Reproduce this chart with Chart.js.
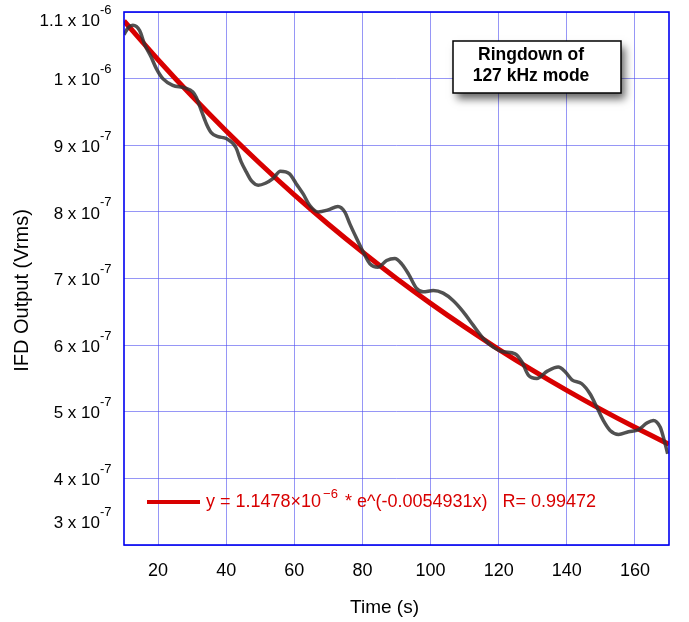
<!DOCTYPE html>
<html><head><meta charset="utf-8">
<script src="https://cdn.jsdelivr.net/npm/chart.js@4"></script>
<style>html,body{margin:0;padding:0;background:#fff} canvas{display:block}</style>
</head><body>
<canvas id="c" width="689" height="622" style="width:689px;height:622px"></canvas>
<script>
// ---- data ----
const timeS = [10, 11.2, 12.6, 14.6, 16, 18, 19.5, 21.4, 24.3, 27.8, 30.2, 31.2, 32.7, 34.2, 35.6, 37.6, 40, 42.8, 44.4, 45.9, 47.5, 49.4, 51.5, 53.7, 55.9, 58.6, 60.6, 62.6, 64.5, 67, 69.9, 72.8, 74.8, 76.3, 78.3, 80.2, 82.2, 84.6, 87.1, 89.5, 91.5, 93.5, 95.9, 97.8, 100.8, 103.7, 106.6, 109.6, 112.5, 115.5, 118.4, 121.3, 124.8, 126.8, 128.7, 131.2, 134.3, 137.5, 139.5, 141.5, 144.4, 146.8, 148.8, 150.7, 152.7, 155.2, 158.1, 161, 163.5, 165.4, 167.4, 168.6, 169.6];
const ifdOutput = [10.66e-7, 10.76e-7, 10.80e-7, 10.72e-7, 10.52e-7, 10.32e-7, 10.15e-7, 10.00e-7, 9.90e-7, 9.86e-7, 9.80e-7, 9.72e-7, 9.52e-7, 9.32e-7, 9.19e-7, 9.13e-7, 9.10e-7, 8.97e-7, 8.75e-7, 8.60e-7, 8.46e-7, 8.40e-7, 8.43e-7, 8.50e-7, 8.61e-7, 8.57e-7, 8.42e-7, 8.27e-7, 8.10e-7, 8.00e-7, 8.03e-7, 8.08e-7, 8.00e-7, 7.82e-7, 7.60e-7, 7.40e-7, 7.22e-7, 7.17e-7, 7.27e-7, 7.30e-7, 7.22e-7, 7.07e-7, 6.85e-7, 6.80e-7, 6.82e-7, 6.78e-7, 6.67e-7, 6.50e-7, 6.30e-7, 6.10e-7, 5.97e-7, 5.90e-7, 5.87e-7, 5.75e-7, 5.55e-7, 5.50e-7, 5.61e-7, 5.67e-7, 5.60e-7, 5.48e-7, 5.42e-7, 5.27e-7, 5.07e-7, 4.87e-7, 4.72e-7, 4.66e-7, 4.70e-7, 4.73e-7, 4.83e-7, 4.87e-7, 4.77e-7, 4.57e-7, 4.37e-7];
const fitTime = [10, 20, 30, 40, 50, 60, 70, 80, 90, 100, 110, 120, 130, 140, 150, 160, 170];
const fitOutput = [10.865e-7, 10.284e-7, 9.734e-7, 9.214e-7, 8.722e-7, 8.255e-7, 7.814e-7, 7.397e-7, 7.001e-7, 6.627e-7, 6.273e-7, 5.937e-7, 5.620e-7, 5.320e-7, 5.035e-7, 4.766e-7, 4.512e-7];
const xTicks = [20, 40, 60, 80, 100, 120, 140, 160];
const xTickLabels = ['20', '40', '60', '80', '100', '120', '140', '160'];
const yTicks = [3e-7, 4e-7, 5e-7, 6e-7, 7e-7, 8e-7, 9e-7, 10e-7, 11e-7];
const yTickBase = ['3 x 10', '4 x 10', '5 x 10', '6 x 10', '7 x 10', '8 x 10', '9 x 10', '1 x 10', '1.1 x 10'];
const yTickExp = ['-7', '-7', '-7', '-7', '-7', '-7', '-7', '-6', '-6'];
const xTitle = 'Time (s)';
const yTitle = 'IFD Output (Vrms)';
const noteLines = ['Ringdown of', '127 kHz mode'];
const fitLabelPre = 'y = 1.1478\u00d710';
const fitLabelSup = '\u22126';
const fitLabelPost = ' * e^(-0.0054931x)   R= 0.99472';

const F = '"Liberation Sans", Arial, Helvetica, sans-serif';
const RED = '#d80000';

const decor = {
  id: 'decor',
  afterDraw(chart) {
    const {ctx, chartArea: a, scales: {x, y}} = chart;
    ctx.save();
    // frame
    ctx.strokeStyle = '#0000f0';
    ctx.lineWidth = 1.6;
    ctx.strokeRect(a.left, a.top, a.right - a.left, a.bottom - a.top);
    // x tick labels
    ctx.fillStyle = '#000';
    ctx.textBaseline = 'middle';
    ctx.textAlign = 'center';
    ctx.font = '18px ' + F;
    xTicks.forEach((v, i) => ctx.fillText(xTickLabels[i], x.getPixelForValue(v), a.bottom + 26));
    ctx.font = '19px ' + F;
    ctx.fillText(xTitle, (a.left + a.right) / 2 - 12, a.bottom + 63);
    // y tick labels
    yTicks.forEach((v, i) => {
      const py = Math.min(Math.max(y.getPixelForValue(v) + 2, a.top + 9), a.bottom - 22);
      ctx.font = '17px ' + F;
      ctx.textAlign = 'right';
      ctx.fillText(yTickBase[i], a.left - 24, py);
      ctx.font = '13px ' + F;
      ctx.textAlign = 'left';
      ctx.fillText(yTickExp[i], a.left - 24, py - 11);
    });
    // y title
    ctx.save();
    ctx.translate(22, (a.top + a.bottom) / 2 + 12);
    ctx.rotate(-Math.PI / 2);
    ctx.textAlign = 'center';
    ctx.font = '20px ' + F;
    ctx.fillText(yTitle, 0, 0);
    ctx.restore();
    // annotation box
    const bx = 453, by = 41, bw = 168, bh = 52;
    ctx.save();
    ctx.shadowColor = 'rgba(0,0,0,0.6)';
    ctx.shadowBlur = 8;
    ctx.shadowOffsetX = 4;
    ctx.shadowOffsetY = 6;
    ctx.fillStyle = '#fff';
    ctx.fillRect(bx, by, bw, bh);
    ctx.restore();
    ctx.strokeStyle = '#000';
    ctx.lineWidth = 1.5;
    ctx.strokeRect(bx, by, bw, bh);
    ctx.fillStyle = '#000';
    ctx.font = 'bold 17.5px ' + F;
    ctx.textAlign = 'center';
    ctx.fillText(noteLines[0], bx + 78, by + 14);
    ctx.fillText(noteLines[1], bx + 78, by + 35);
    // fit legend
    const ly = 502;
    ctx.strokeStyle = RED;
    ctx.lineWidth = 4;
    ctx.beginPath();
    ctx.moveTo(147, ly);
    ctx.lineTo(200, ly);
    ctx.stroke();
    ctx.fillStyle = RED;
    ctx.textAlign = 'left';
    ctx.font = '18px ' + F;
    let tx = 206;
    ctx.fillText(fitLabelPre, tx, ly);
    tx += ctx.measureText(fitLabelPre).width + 2;
    ctx.font = '13px ' + F;
    ctx.fillText(fitLabelSup, tx, ly - 8);
    tx += ctx.measureText(fitLabelSup).width + 2;
    ctx.font = '18px ' + F;
    ctx.fillText(fitLabelPost, tx, ly);
    ctx.restore();
  }
};

new Chart(document.getElementById('c'), {
  type: 'scatter',
  data: {
    datasets: [
      {
        label: 'data',
        data: timeS.map((t, i) => ({x: t, y: ifdOutput[i]})),
        showLine: true,
        borderColor: 'rgba(50,50,50,0.85)',
        borderWidth: 3.5,
        pointRadius: 0,
        cubicInterpolationMode: 'monotone',
        order: 1
      },
      {
        label: 'fit',
        data: fitTime.map((t, i) => ({x: t, y: fitOutput[i]})),
        showLine: true,
        borderColor: RED,
        borderWidth: 5,
        pointRadius: 0,
        tension: 0.3,
        order: 2
      }
    ]
  },
  options: {
    responsive: false,
    animation: false,
    events: [],
    layout: {padding: {left: 124, top: 12, right: 20, bottom: 77}},
    plugins: {legend: {display: false}, tooltip: {enabled: false}},
    scales: {
      x: {
        type: 'linear', min: 10, max: 170,
        afterBuildTicks: s => { s.ticks = xTicks.map(v => ({value: v})); },
        ticks: {display: false},
        grid: {color: 'rgba(80,80,240,0.6)', lineWidth: 1, drawTicks: false},
        border: {display: false}
      },
      y: {
        type: 'linear', min: 3e-7, max: 11e-7,
        afterBuildTicks: s => { s.ticks = yTicks.map(v => ({value: v})); },
        ticks: {display: false},
        grid: {color: 'rgba(80,80,240,0.6)', lineWidth: 1, drawTicks: false},
        border: {display: false}
      }
    }
  },
  plugins: [decor]
});
</script>
</body></html>
